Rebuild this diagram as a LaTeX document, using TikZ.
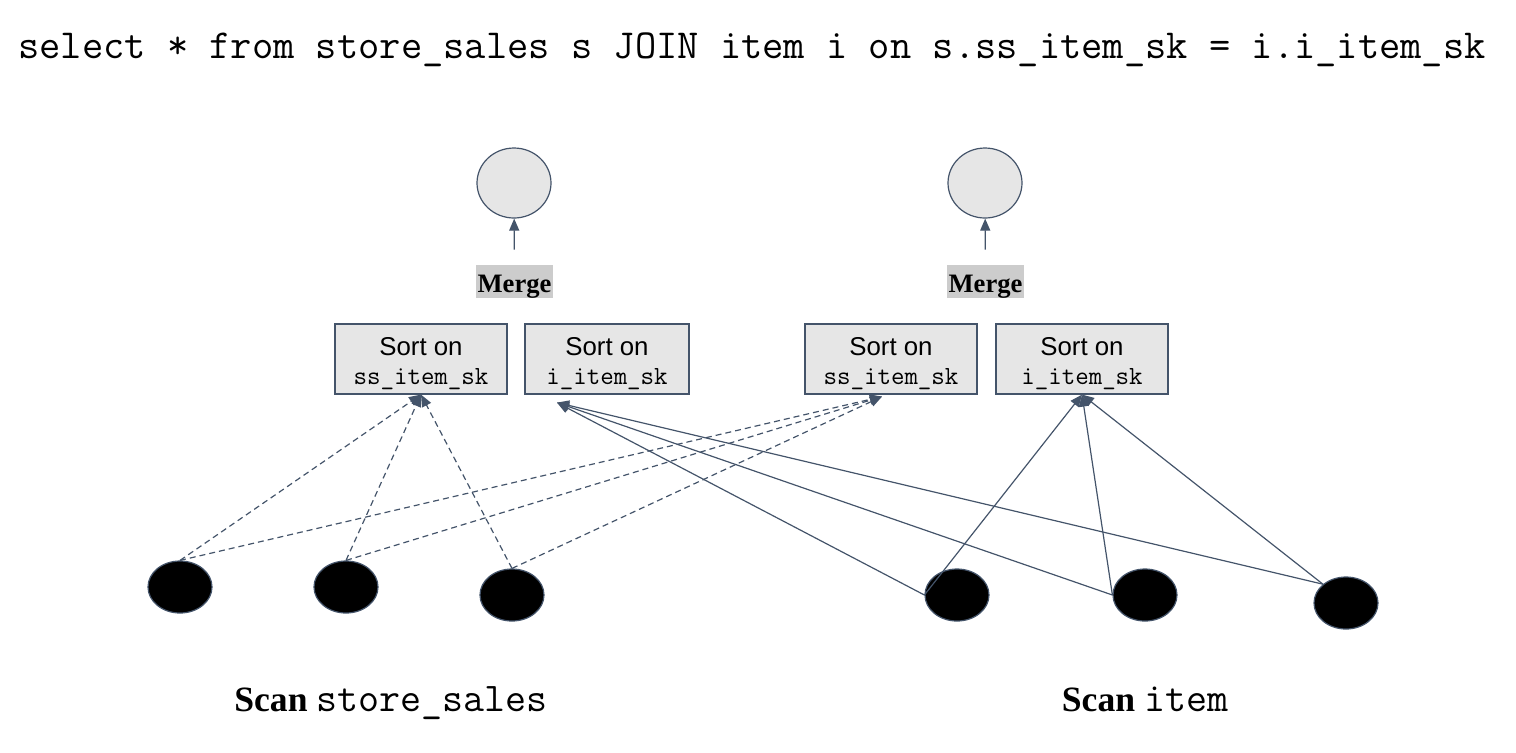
\documentclass[tikz,border=0pt]{standalone}
\usepackage{fontspec}
\setmainfont{Liberation Serif}
\setsansfont{Liberation Sans}
\usetikzlibrary{shapes.geometric,arrows.meta}
\definecolor{slate}{HTML}{44546A}
\definecolor{lgray}{HTML}{E6E6E6}
\definecolor{mgray}{HTML}{CCCCCC}
\tikzset{
  outnode/.style={ellipse,draw=slate,fill=lgray,line width=0.6pt,minimum width=37pt,minimum height=35pt,inner sep=0pt},
  scannode/.style={ellipse,draw=slate,fill=black,line width=0.6pt,minimum width=32pt,minimum height=26pt,inner sep=0pt},
  sortbox/.style={rectangle,draw=slate,fill=lgray,line width=0.6pt,minimum height=35pt,inner sep=0pt},
  mergelbl/.style={fill=mgray,inner sep=0pt,minimum width=38.5pt,minimum height=16.5pt,text height=11pt,text depth=0pt,font=\fontsize{13.3}{15}\selectfont\bfseries},
  sortlbl/.style={font=\sffamily\fontsize{12.9}{15}\selectfont,inner sep=0pt},
  keylbl/.style={font=\ttfamily\fontsize{13.1}{14}\selectfont,inner sep=0pt},
  conn/.style={draw=slate,line width=0.6pt,-{Triangle[length=6pt,width=5pt]}},
  dconn/.style={conn,dash pattern=on 3pt off 2pt},
}
\begin{document}
\begin{tikzpicture}[x=0.5pt,y=-0.5pt]
\useasboundingbox (0,0) rectangle (1516,752);
% title
\node[font=\ttfamily\fontsize{20.65}{24}\selectfont,inner sep=0pt,anchor=base] (title) at (752,58) {select * from store\_sales s JOIN item i on s.ss\_item\_sk = i.i\_item\_sk};
% output circles
\node[outnode] (c1) at (514,183) {};
\node[outnode] (c2) at (985,183) {};
% merge labels
\node[mergelbl] (m1) at (514.5,281.5) {Merge};
\node[mergelbl] (m2) at (985.5,281.5) {Merge};
\draw[conn,shorten <=7.5pt] (m1) -- (c1);
\draw[conn,shorten <=7.5pt] (m2) -- (c2);
% sort boxes
\node[sortbox,minimum width=86pt] (s1) at (421,359) {};
\node[sortbox,minimum width=82pt] (s2) at (607,359) {};
\node[sortbox,minimum width=86pt] (s3) at (891,359) {};
\node[sortbox,minimum width=86pt] (s4) at (1082,359) {};
\foreach \b/\k in {s1/ss\_item\_sk,s2/i\_item\_sk,s3/ss\_item\_sk,s4/i\_item\_sk}{
  \node[sortlbl,anchor=base] (\b t) at ([yshift=2pt]\b.center) {Sort on};
  \node[keylbl,anchor=base] (\b k) at ([yshift=-12.5pt]\b.center) {\k};
}
% scan nodes
\node[scannode] (A) at (180,587) {};
\node[scannode] (B) at (346,587) {};
\node[scannode] (C) at (512,595) {};
\node[scannode] (D) at (957,595) {};
\node[scannode] (E) at (1145,595) {};
\node[scannode] (F) at (1346,603) {};
% entry points
\coordinate (s2in) at ([xshift=-25pt,yshift=-4pt]s2.south);
\coordinate (s3in) at ([xshift=-4.5pt,yshift=-1pt]s3.south);
% dashed connectors
\foreach \n in {A,B,C}{
  \draw[dconn] (\n.north) -- (s1.south);
  \draw[dconn] (\n.north) -- (s3in);
}
% solid connectors
\foreach \n/\a in {D/west,E/west,F/north west}{
  \draw[conn] (\n.\a) -- (s2in);
  \draw[conn] (\n.\a) -- (s4.south);
}
% scan labels
\node[inner sep=0pt,anchor=base] (l1) at (391,711) {\fontsize{17.8}{20}\selectfont\textbf{Scan} {\ttfamily\fontsize{20.4}{22}\selectfont store\_sales}};
\node[inner sep=0pt,anchor=base] (l2) at (1145,711) {\fontsize{17.8}{20}\selectfont\textbf{Scan} {\ttfamily\fontsize{20.4}{22}\selectfont item}};
\end{tikzpicture}
\end{document}
